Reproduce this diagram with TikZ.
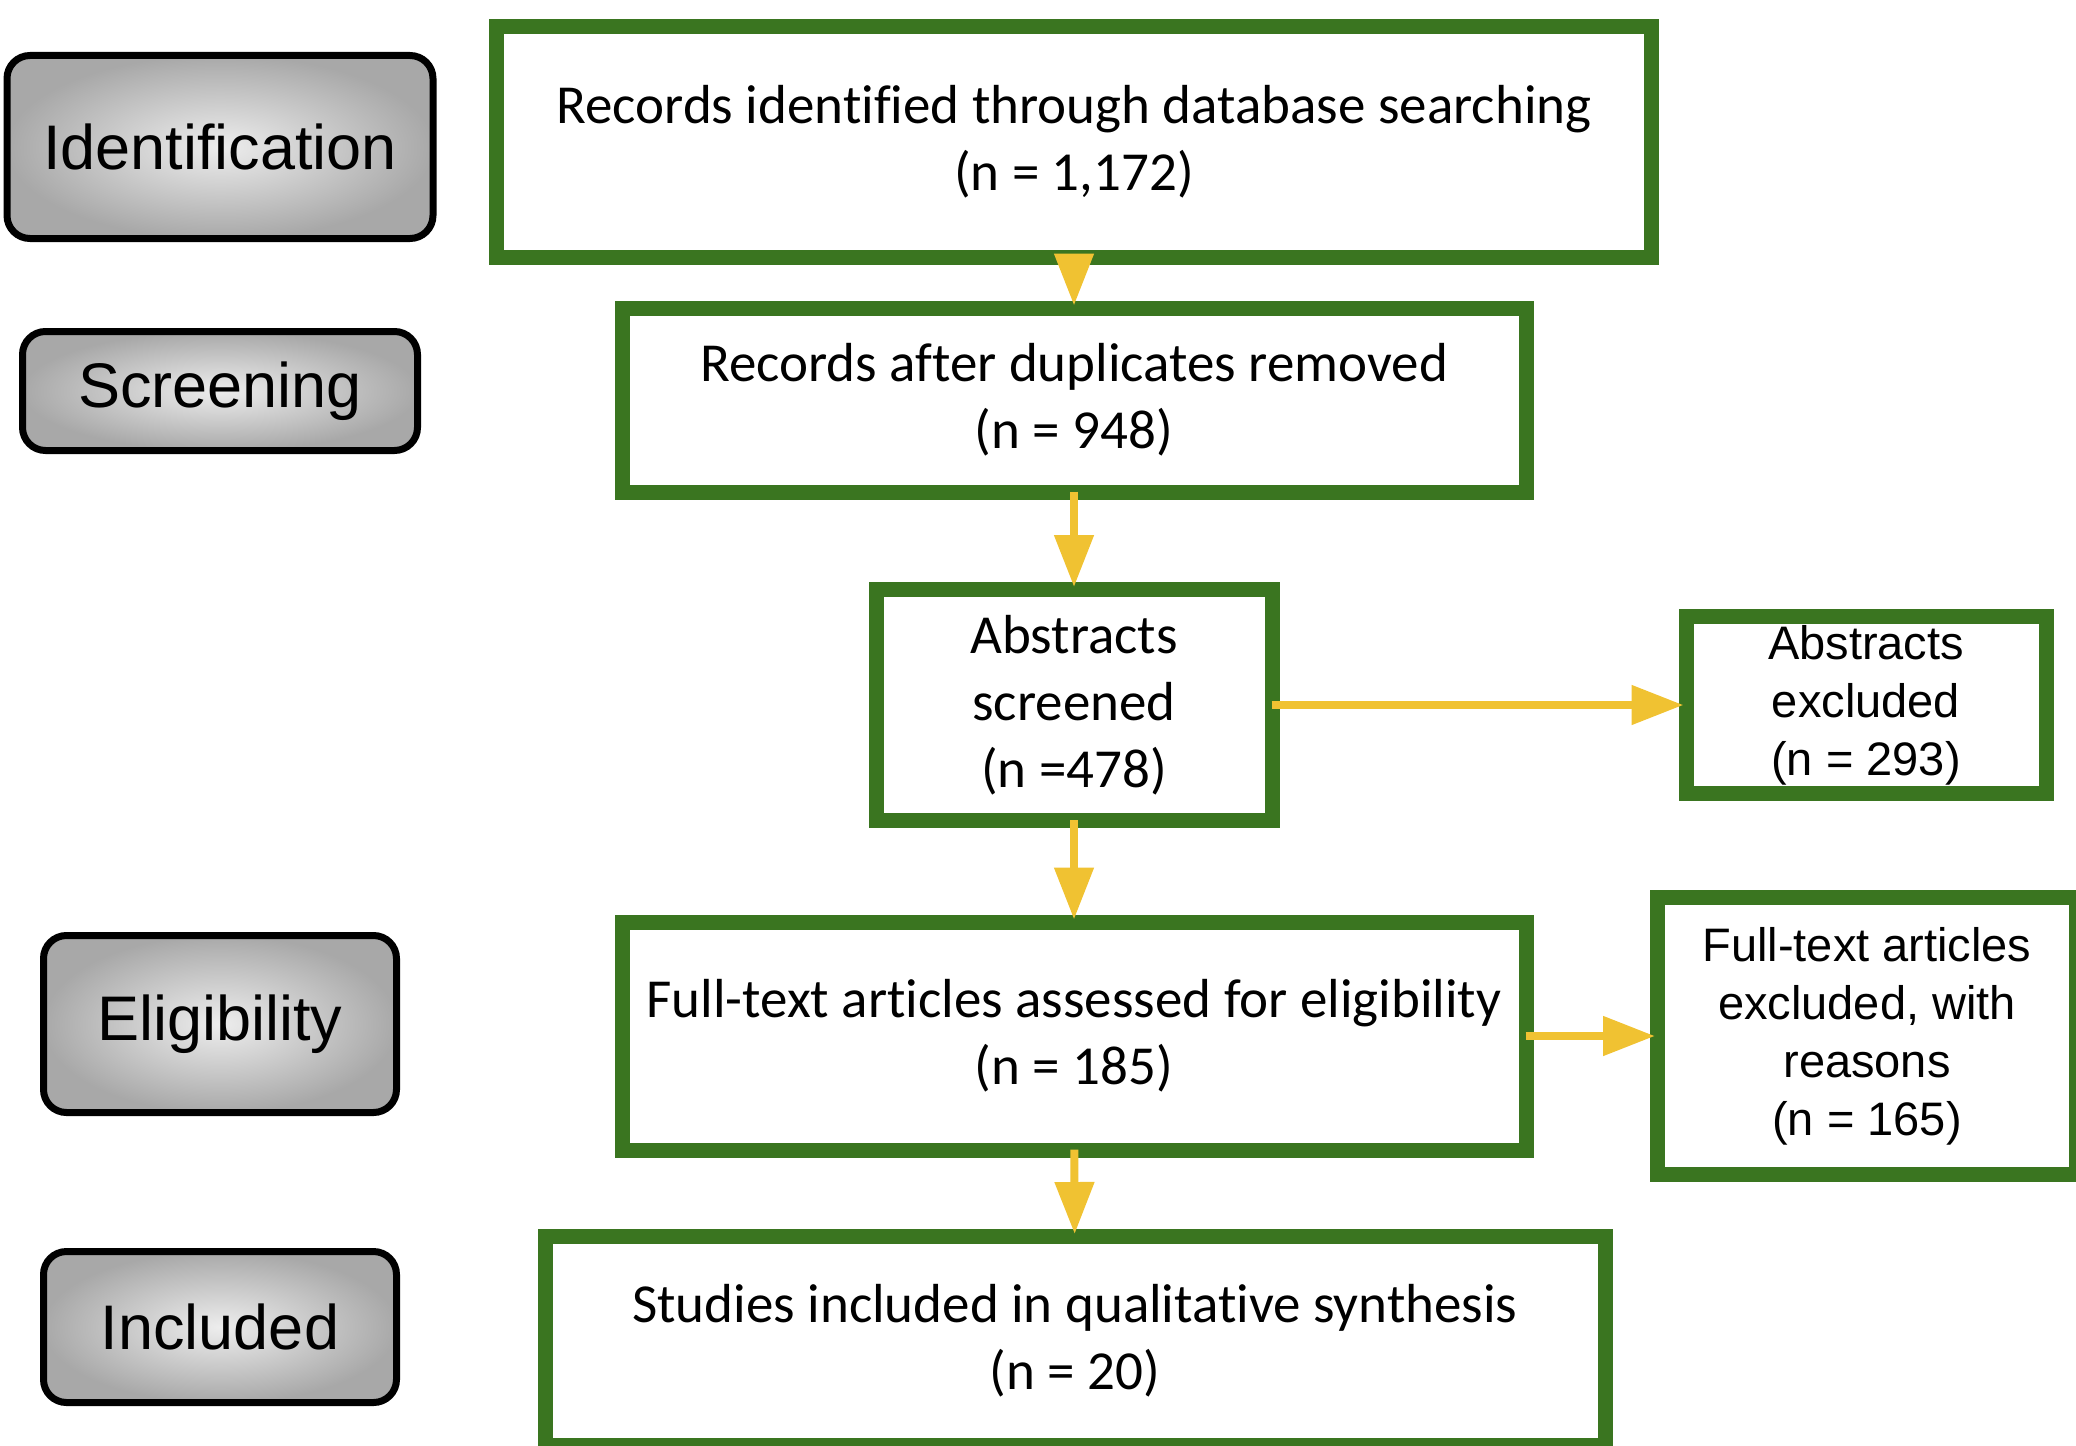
\documentclass[tikz,border=0pt]{standalone}
\usepackage{fontspec}
\setmainfont[Ligatures={NoCommon,NoContextual,NoRare},Contextuals=NoAlternate]{Carlito}
\newfontfamily\arialfont{Liberation Sans}
\usetikzlibrary{arrows.meta,positioning}
\definecolor{prGreen}{HTML}{3A7520}
\definecolor{prYellow}{HTML}{F0C232}

\begin{document}
\begin{tikzpicture}[x=1pt,y=-1pt,
    box/.style={draw=prGreen,line width=15pt,fill=white,inner sep=0pt,
                align=center,font=\fontsize{55}{67}\selectfont},
    side/.style={box,font=\arialfont\fontsize{47}{58}\selectfont},
    stage/.style={draw=black,line width=7pt,rounded corners=23pt,
                  shading=radial,inner color=black!7,outer color=black!34,
                  inner sep=0pt,font=\arialfont\fontsize{63}{75}\selectfont},
    arr/.style={draw=prYellow,line width=8pt,shorten <=-8pt,shorten >=-5pt,
                -{Triangle[length=52pt,width=38pt]}}]
  \useasboundingbox (0,0) rectangle (2076,1445);
  \clip (0,0) rectangle (2076,1445);

  % stages
  \node[stage,minimum width=426pt,minimum height=183pt] (id) at (220,147) {Identification};
  \node[stage,minimum width=395pt,minimum height=119pt] (sc) at (220,391) {Screening};
  \node[stage,minimum width=353pt,minimum height=177pt] (el) at (220,1024) {Eligibility};
  \node[stage,minimum width=353pt,minimum height=151pt] (in) at (220,1327) {Included};

  % flow
  \node[box,minimum width=1155pt,minimum height=231pt] (rec) at (1074,142)
    {Records identified through database searching\\(n = 1,172)};
  \node[box,minimum width=904pt,minimum height=184pt] (dup) at (1074,400)
    {Records after duplicates removed\\(n = 948)};
  \node[box,minimum width=396pt,minimum height=231pt] (abs) at (1074,705)
    {Abstracts\\screened\\(n =478)};
  \node[side,minimum width=360pt,minimum height=177pt] (absx) at (1866,705)
    {Abstracts\\excluded\\(n = 293)};
  \node[box,minimum width=904pt,minimum height=228pt] (ft) at (1074,1036)
    {Full-text articles assessed for eligibility\\(n = 185)};
  \node[side,minimum width=419pt,minimum height=277pt] (ftx) at (1867,1036)
    {Full-text articles\\excluded, with\\reasons\\(n = 165)};
  \node[box,minimum width=1060pt,minimum height=209pt] (inc) at (1075,1341)
    {Studies included in qualitative synthesis\\(n = 20)};

  \draw[arr] (rec) -- (dup);
  \draw[arr] (dup) -- (abs);
  \draw[arr] (abs) -- (absx);
  \draw[arr] (abs) -- (ft);
  \draw[arr] (ft) -- (ftx);
  \draw[arr] (ft) -- (inc);
\end{tikzpicture}
\end{document}
